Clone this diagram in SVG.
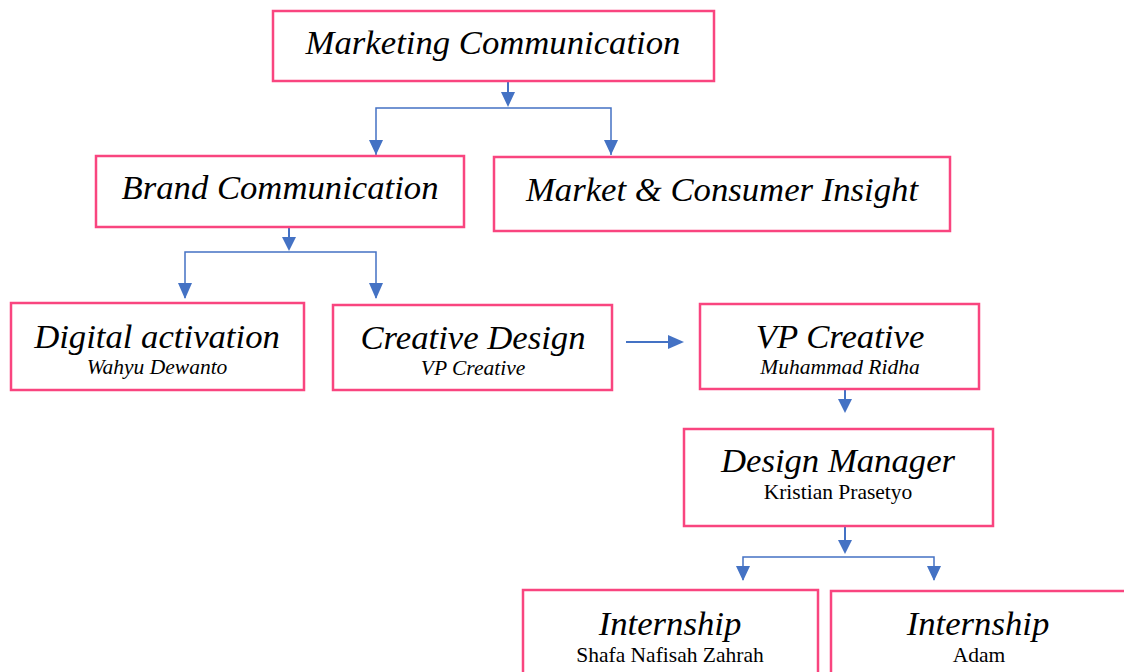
<svg xmlns="http://www.w3.org/2000/svg" width="1124" height="672" viewBox="0 0 1124 672">
<style>
.box{fill:#fff;stroke:#F9457F;stroke-width:2.5}
.t{font-family:"Liberation Serif",serif;font-style:italic;font-size:34.7px;fill:#000;text-anchor:middle}
.s{font-family:"Liberation Serif",serif;font-style:italic;font-size:21.5px;fill:#000;text-anchor:middle}
.u{font-family:"Liberation Serif",serif;font-size:21.5px;fill:#000;text-anchor:middle}
.c{fill:none;stroke:#4472C4;stroke-width:2}
.h{fill:none;stroke:#4472C4;stroke-width:1.5}
</style>
<rect width="1124" height="672" fill="#fff"/>
<g id="connectors">
<path class="c" d="M508,82 V92"/><path d="M501,92 L515,92 L508,107 Z" fill="#4472C4"/>
<path class="h" d="M376,155 V108 H611 V155"/>
<path d="M369,140 L383,140 L376,155 Z" fill="#4472C4"/>
<path d="M604,140 L618,140 L611,155 Z" fill="#4472C4"/>
<path class="c" d="M289,228 V237"/><path d="M282,237 L296,237 L289,251 Z" fill="#4472C4"/>
<path class="h" d="M185,298 V252 H376 V298"/>
<path d="M178,283 L192,283 L185,299 Z" fill="#4472C4"/>
<path d="M369,283 L383,283 L376,299 Z" fill="#4472C4"/>
<path class="c" d="M626,342 H669"/><path d="M668,335 L684,342 L668,349 Z" fill="#4472C4"/>
<path class="c" d="M845,390 V399"/><path d="M838,399 L852,399 L845,413 Z" fill="#4472C4"/>
<path class="c" d="M845,527 V540"/><path d="M838,540 L852,540 L845,554 Z" fill="#4472C4"/>
<path class="h" d="M743,580 V557 H934 V580"/>
<path d="M736,566 L750,566 L743,581 Z" fill="#4472C4"/>
<path d="M927,566 L941,566 L934,581 Z" fill="#4472C4"/>
</g>
<g id="marketing-communication"><rect class="box" x="273" y="11" width="441" height="70"/><text class="t" x="493" y="54">Marketing Communication</text></g>
<g id="brand-communication"><rect class="box" x="96" y="156" width="368" height="71"/><text class="t" x="280" y="199">Brand Communication</text></g>
<g id="market-consumer-insight"><rect class="box" x="494" y="157" width="456" height="74"/><text class="t" x="722" y="201">Market &amp; Consumer Insight</text></g>
<g id="digital-activation"><rect class="box" x="11" y="303" width="293" height="87"/><text class="t" x="157" y="348">Digital activation</text><text class="s" x="157" y="374">Wahyu Dewanto</text></g>
<g id="creative-design"><rect class="box" x="333" y="305" width="279" height="85"/><text class="t" x="473" y="349">Creative Design</text><text class="s" x="473" y="375">VP Creative</text></g>
<g id="vp-creative"><rect class="box" x="700" y="304" width="279" height="85"/><text class="t" x="840" y="348">VP Creative</text><text class="s" x="840" y="374">Muhammad Ridha</text></g>
<g id="design-manager"><rect class="box" x="684" y="429" width="309" height="97"/><text class="t" x="838" y="472">Design Manager</text><text class="u" x="838" y="499">Kristian Prasetyo</text></g>
<g id="internship-1"><rect class="box" x="523" y="590" width="295" height="100"/><text class="t" x="670" y="635">Internship</text><text class="u" x="670" y="662">Shafa Nafisah Zahrah</text></g>
<g id="internship-2"><rect class="box" x="831" y="591" width="310" height="100"/><text class="t" x="978" y="635">Internship</text><text class="u" x="979" y="662">Adam</text></g>
</svg>
